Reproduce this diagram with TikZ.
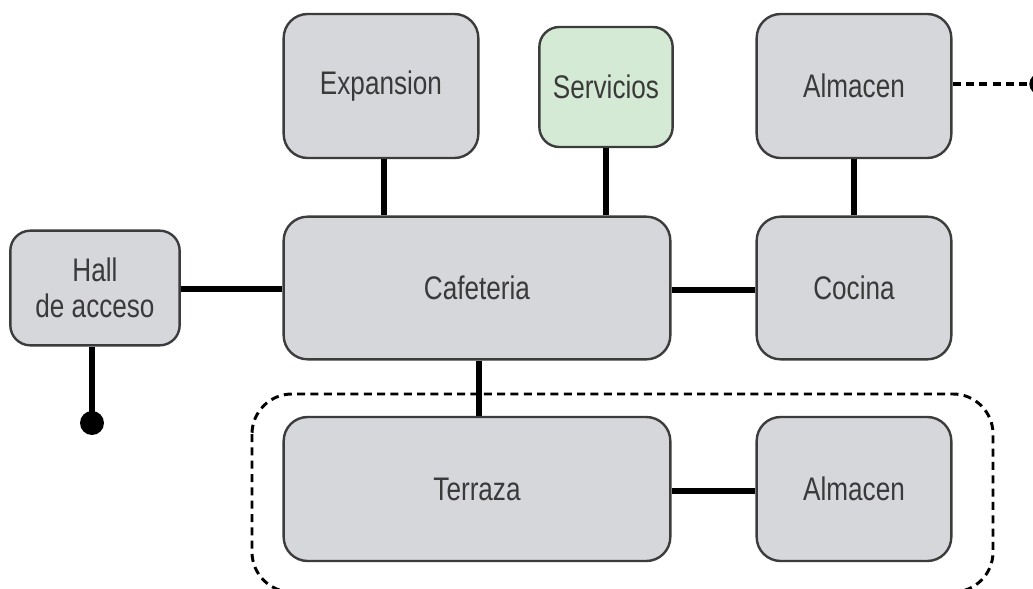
\documentclass[tikz,border=0pt]{standalone}
\usepackage{fontspec}
\setmainfont[FakeStretch=0.8]{Liberation Sans}
\usetikzlibrary{positioning}
\definecolor{boxgray}{HTML}{D6D7DB}
\definecolor{boxgreen}{HTML}{D5EAD5}
\definecolor{edgegray}{HTML}{3C3C3C}
\definecolor{txtgray}{HTML}{3A3A3A}
\begin{document}
\begin{tikzpicture}[x=0.75pt,y=-0.75pt,
  room/.style={draw=edgegray, line width=1.8pt, fill=boxgray, rounded corners=18pt,
    text=txtgray, font=\fontsize{24.5}{27}\selectfont, align=center, inner sep=0pt},
  link/.style={line width=3.8pt, black},
  dashlink/.style={line width=2.4pt, black, dash pattern=on 6pt off 4pt},
  dotend/.style={circle, fill=black, inner sep=0pt, minimum size=18pt}]
\useasboundingbox (0,0) rectangle (1033,589);
\clip (0,0) rectangle (1033,589);
\fill[white] (0,0) rectangle (1033,589);
% group
\draw[line width=2.2pt, dash pattern=on 6pt off 4pt, rounded corners=30pt] (252,394) rectangle (993,592);
% rooms
\node[room, minimum width=146pt, minimum height=108pt] (exp) at (381,86) {Expansion};
\node[room, fill=boxgreen, rounded corners=15pt, minimum width=100pt, minimum height=90pt] (serv) at (606,87) {Servicios};
\node[room, minimum width=146pt, minimum height=108pt] (alm1) at (854,86) {Almacen};
\node[room, rounded corners=15pt, minimum width=127pt, minimum height=86pt] (hall) at (95,288) {Hall\\de acceso};
\node[room, minimum width=290pt, minimum height=107pt] (caf) at (477,288) {Cafeteria};
\node[room, minimum width=146pt, minimum height=107pt] (coc) at (854,288) {Cocina};
\node[room, minimum width=290pt, minimum height=108pt] (ter) at (477,489) {Terraza};
\node[room, minimum width=146pt, minimum height=108pt] (alm2) at (854,489) {Almacen};
% free ends
\coordinate (hallend) at (92,423);
\coordinate (alm1end) at (1040,84);
% links
\draw[link] (exp.south -| 384,0) -- (caf.north -| 384,0);
\draw[link] (serv.south -| 606,0) -- (caf.north -| 606,0);
\draw[link] (alm1.south) -- (coc.north);
\draw[link] (hall.east |- 0,289) -- (caf.west |- 0,289);
\draw[link] (caf.east |- 0,290) -- (coc.west |- 0,290);
\draw[link] (caf.south -| 479,0) -- (ter.north -| 479,0);
\draw[link] (ter.east |- 0,491) -- (alm2.west |- 0,491);
\draw[link] (hall.south -| hallend) -- (hallend);
\node[dotend] (halldot) at (hallend) {};
\draw[dashlink] (alm1.east |- alm1end) -- (alm1end);
\node[dotend, minimum size=16pt] (almdot) at (alm1end) {};
\end{tikzpicture}
\end{document}
